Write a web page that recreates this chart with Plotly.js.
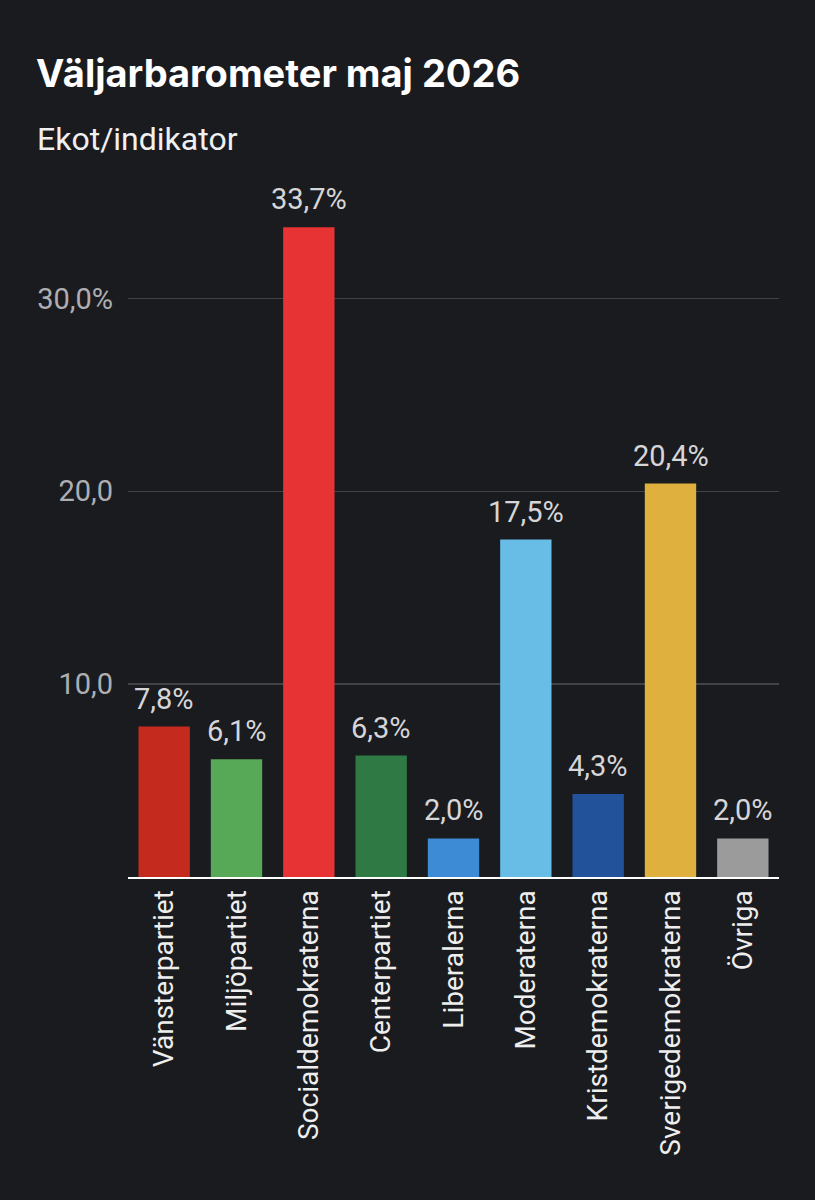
<!DOCTYPE html>
<html>
<head>
<meta charset="utf-8">
<script src="https://cdn.plot.ly/plotly-3.0.1.min.js"></script>
<style>
html,body{margin:0;padding:0;background:#1a1b1f;}
#chart{width:815px;height:1200px;}
</style>
</head>
<body>
<div id="chart"></div>
<script>
const categories = ["Vänsterpartiet","Miljöpartiet","Socialdemokraterna","Centerpartiet","Liberalerna","Moderaterna","Kristdemokraterna","Sverigedemokraterna","Övriga"];
const values = [7.8, 6.1, 33.7, 6.3, 2.0, 17.5, 4.3, 20.4, 2.0];
const colors = ["#c42a1e","#57a957","#e83335","#2f7944","#3d8bd4","#68bde6","#22529a","#e0b03f","#9b9b9b"];
const tickVals = [10, 20, 30];
const tickText = ["10,0", "20,0", "30,0%"];

const FONT = "Roboto, 'Open Sans', sans-serif";
const fmt = v => v.toFixed(1).replace('.', ',') + '%';

const annotations = categories.map((c, i) => ({
  x: c, y: values[i], xref: 'x', yref: 'y',
  text: fmt(values[i]), showarrow: false,
  yanchor: 'bottom', yshift: 9,
  font: {family: FONT, size: 29, color: '#d6d6d8'}
}));

const plotTop = 180, plotBottom = 877;
const plotH = plotBottom - plotTop;
const plotL = 128, plotW = 651;
const pxPerUnit = (877 - 298.5) / 30;
const yMax = plotH / pxPerUnit;

annotations.push({
  xref: 'paper', yref: 'paper', x: (34 - plotL) / plotW, y: (plotBottom - 73) / plotH,
  xanchor: 'left', yanchor: 'middle', showarrow: false,
  text: 'Väljarbarometer maj 2026',
  font: {family: "Inter, 'Open Sans', sans-serif", size: 38, color: '#ffffff', weight: 700}
});
annotations.push({
  xref: 'paper', yref: 'paper', x: (35 - plotL) / plotW, y: (plotBottom - 139) / plotH,
  xanchor: 'left', yanchor: 'middle', showarrow: false,
  text: 'Ekot/indikator',
  font: {family: FONT, size: 32, color: '#f0f0f0'}
});

const trace = {
  type: 'bar',
  x: categories,
  y: values,
  marker: {color: colors},
  hoverinfo: 'none'
};

const layout = {
  width: 815, height: 1200,
  margin: {l: plotL, r: 815 - plotL - plotW, t: plotTop, b: 1200 - plotBottom},
  paper_bgcolor: '#1a1b1f',
  plot_bgcolor: '#1a1b1f',
  showlegend: false,
  bargap: 0.29,
  xaxis: {
    type: 'category',
    tickangle: -90,
    tickfont: {family: FONT, size: 28, color: '#eeeeee'},
    showgrid: false,
    showline: true, linecolor: '#ffffff', linewidth: 2,
    ticks: '', ticklen: 0,
    fixedrange: true
  },
  yaxis: {
    range: [0, yMax],
    tickvals: tickVals,
    ticktext: tickText,
    tickfont: {family: FONT, size: 29, color: '#aeaeb2'},
    showgrid: true, gridcolor: '#424347', gridwidth: 1.5,
    zeroline: false,
    showline: false,
    ticks: '', ticklabelstandoff: 14,
    fixedrange: true
  },
  annotations: annotations
};

Plotly.newPlot('chart', [trace], layout, {displayModeBar: false, staticPlot: true});
</script>
</body>
</html>
